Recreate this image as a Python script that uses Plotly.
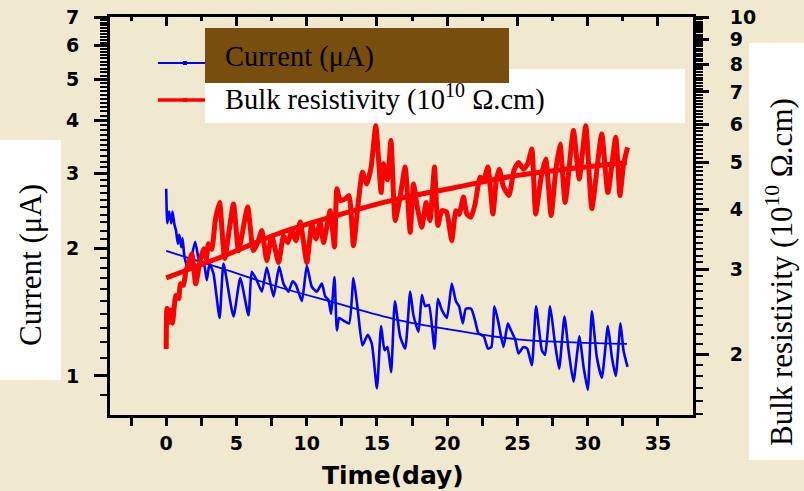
import plotly.graph_objects as go

# ---------------- data ----------------
blue_day = [0.0, 0.08, 0.21, 0.36, 0.45, 0.59, 0.69, 0.83, 0.93, 1.07, 1.16, 1.30, 1.59, 2.06, 2.42,
            2.66, 2.89, 3.08, 3.37, 3.80, 4.08, 4.79, 5.27, 5.86, 6.09, 6.45, 6.81, 7.16, 7.64, 8.04,
            8.35, 8.71, 8.99, 9.23, 9.66, 10.01, 10.37, 10.72, 11.08, 11.32, 11.55, 11.74, 11.98,
            12.15, 12.31, 12.62, 13.02, 13.33, 13.64, 13.97, 14.35, 14.64, 15.0, 15.30, 15.54, 15.75,
            16.01, 16.28, 16.65, 17.01, 17.37, 17.60, 17.96, 18.2, 18.43, 18.7, 19.1, 19.34, 19.62,
            19.98, 20.33, 20.62, 20.85, 21.11, 21.33, 21.71, 21.99, 22.23, 22.6, 22.9, 23.15, 23.37,
            23.66, 24.01, 24.32, 24.5, 24.84, 25.08, 25.43, 25.7, 26.03, 26.33, 26.74, 26.97, 27.33,
            27.64, 27.97, 28.35, 28.64, 28.99, 29.42, 29.71, 30.01, 30.30, 30.65, 31.01, 31.44, 31.72,
            32.0, 32.34, 32.55, 32.84]
current = [2.76, 2.29, 2.44, 2.29, 2.44, 2.27, 2.21, 2.05, 2.15, 2.01, 2.11, 1.91, 1.78, 2.07, 1.81,
           1.86, 1.68, 1.84, 1.74, 1.37, 1.84, 1.38, 1.70, 1.39, 1.76, 1.68, 1.58, 1.80, 1.54, 1.81,
           1.65, 1.58, 1.67, 1.64, 1.50, 1.82, 1.62, 1.58, 1.65, 1.54, 1.51, 1.40, 1.71,
           1.28, 1.37, 1.35, 1.33, 1.70, 1.43, 1.18, 1.25, 1.19, 0.935, 1.31, 1.15, 1.17,
           1.02, 1.50, 1.24, 1.16, 1.58, 1.39, 1.27, 1.55, 1.46, 1.47, 1.16, 1.52, 1.43,
           1.37, 1.65, 1.50, 1.46, 1.33, 1.44, 1.44, 1.35, 1.26, 1.24, 1.16, 1.17, 1.46,
           1.33, 1.17, 1.33, 1.29, 1.22, 1.13, 1.17, 1.16, 1.06, 1.46, 1.15, 1.12, 1.46,
           1.22, 1.04, 1.38, 1.15, 0.97, 1.24, 1.05, 0.927, 1.42, 1.11, 0.99, 1.31, 1.11,
           1.0, 1.33, 1.15, 1.05]

red_day = [0.0, 0.05, 0.2, 0.3, 0.45, 0.69, 0.9, 1.0, 1.23, 1.4, 1.59, 1.83, 2.1, 2.42, 2.66, 2.85,
           3.01, 3.25, 3.49, 3.8, 4.16, 4.79, 5.15, 5.8, 6.2, 6.5, 6.81, 7.16, 7.52, 8.0, 8.35, 8.66,
           8.94, 9.23, 9.54, 10.01, 10.37, 10.66, 10.96, 11.2, 11.67, 11.98, 12.15, 12.38, 12.74,
           13.02, 13.33, 13.69, 13.97, 14.28, 14.59, 14.92, 15.3, 15.47, 15.75, 16.0, 16.3, 16.65,
           17.01, 17.37, 17.6, 17.9, 18.2, 18.5, 18.78, 19.1, 19.34, 19.62, 19.95, 20.33, 20.62,
           20.85, 21.16, 21.4, 21.7, 21.99, 22.35, 22.6, 22.9, 23.26, 23.5, 23.71, 24.01, 24.4,
           24.75, 25.08, 25.43, 25.74, 26.03, 26.3, 26.69, 27.02, 27.4, 27.73, 28.04, 28.4, 28.99,
           29.4, 29.87, 30.3, 31.0, 31.44, 32.0, 32.3, 32.55, 32.84]
resistivity = [2.05, 2.49, 2.33, 2.47, 2.32, 2.65, 2.61, 2.80, 2.78, 2.98, 3.08, 3.23, 2.80, 3.13, 3.31, 3.15,
               3.39, 3.30, 3.78, 4.13, 3.16, 4.10, 3.28, 4.04, 3.28, 3.40, 3.61, 3.13, 3.52, 3.10, 3.52, 3.41,
               3.61, 3.44, 3.76, 3.10, 3.73, 3.47, 3.76, 3.41, 3.97, 3.34, 4.41, 4.17, 4.20,
               4.27, 3.36, 4.17, 4.77, 4.51, 4.89, 5.96, 4.33, 4.97, 4.60, 5.55, 3.79, 4.24,
               4.89, 3.58, 4.51, 4.00, 3.67, 4.13, 3.79, 4.89, 3.70, 3.97, 3.95, 3.44, 3.97,
               3.90, 4.24, 3.91, 3.85, 4.10, 4.66, 4.60, 4.89, 3.91, 4.60, 4.84, 4.45, 4.27,
               4.81, 5.00, 4.84, 4.97, 5.33, 3.91, 4.66, 5.08, 3.88, 4.81, 5.46, 4.13, 5.82,
               4.62, 5.96, 4.01, 5.73, 4.33, 5.64, 4.27, 4.94, 5.37]

blue_fit_day = [0, 4, 8, 12, 16.3, 20, 25, 29, 32.8]
current_fit = [1.97, 1.79, 1.62, 1.488, 1.36, 1.29, 1.22, 1.20, 1.19]
red_fit_day = [0, 4, 8, 12, 16.5, 20.5, 25, 29, 32.8]
resistivity_fit = [2.88, 3.19, 3.56, 3.87, 4.20, 4.43, 4.70, 4.86, 5.0]

x_major = [0, 5, 10, 15, 20, 25, 30, 35]
x_minor = [-2.5, 2.5, 7.5, 12.5, 17.5, 22.5, 27.5, 32.5]
left_major = [1, 2, 3, 4, 5, 6, 7]
right_major = [2, 3, 4, 5, 6, 7, 8, 9, 10]

legend_labels = ["Current (μA)", "Bulk resistivity (10<sup>10</sup> Ω.cm)"]
left_title = "Current (μA)"
right_title = "Bulk resistivity (10<sup>10</sup> Ω.cm)"
x_title = "Time(day)"

# ---------------- figure ----------------
W, H = 804, 491
L, R, T, B = 110, 111, 17, 76
BG = "#f1e9cf"


def pxx(x):
    return (x - L) / (W - L - R)


def pxy(y):
    return (H - B - y) / (H - T - B)


left_minor = [round(0.8 + 0.1 * i, 2) for i in range(0, 63)]
left_minor = [v for v in left_minor if abs(v - round(v)) > 1e-6]
right_minor = [round(1.5 + 0.1 * i, 2) for i in range(0, 86)]
right_minor = [v for v in right_minor if abs(v - round(v)) > 1e-6]

fig = go.Figure()
fig.add_trace(go.Scatter(x=blue_day, y=current, mode="lines",
                         line=dict(color="#0000ff", width=2.6, shape="spline", smoothing=0.5),
                         name=legend_labels[0], showlegend=False))
fig.add_trace(go.Scatter(x=blue_fit_day, y=current_fit, mode="lines",
                         line=dict(color="#0000ff", width=1.8, shape="spline"), showlegend=False))
fig.add_trace(go.Scatter(x=red_day, y=resistivity, mode="lines", yaxis="y2",
                         line=dict(color="#ff0000", width=5, shape="spline", smoothing=0.5),
                         name=legend_labels[1], showlegend=False))
fig.add_trace(go.Scatter(x=red_fit_day, y=resistivity_fit, mode="lines", yaxis="y2",
                         line=dict(color="#ff0000", width=5, shape="spline"), showlegend=False))
# dummy trace to bind the top mirror axis
fig.add_trace(go.Scatter(x=[None], y=[None], xaxis="x2", showlegend=False, hoverinfo="skip"))

tickfont = dict(family="DejaVu Sans", size=19, color="black", weight="bold")

fig.update_layout(
    width=W, height=H,
    margin=dict(l=L, r=R, t=T, b=B, pad=0, autoexpand=False),
    paper_bgcolor=BG, plot_bgcolor=BG,
    showlegend=False,
    xaxis=dict(range=[-4, 37.5], tickmode="array", tickvals=x_major, ticktext=[str(v) for v in x_major],
               ticks="outside", ticklen=8, tickwidth=2.5, tickcolor="black",
               minor=dict(tickmode="array", tickvals=x_minor, ticks="outside", ticklen=8,
                          tickwidth=2.5, tickcolor="black"),
               showline=True, linewidth=3, linecolor="black", showgrid=False, zeroline=False,
               tickfont=tickfont, ticklabelstandoff=1),
    xaxis2=dict(range=[-4, 37.5], overlaying="x", side="top", anchor="y",
                tickmode="array", tickvals=x_major, showticklabels=False,
                ticks="inside", ticklen=9, tickwidth=2.5, tickcolor="black",
                minor=dict(tickmode="array", tickvals=x_minor, ticks="inside", ticklen=4,
                           tickwidth=2.5, tickcolor="black"),
                showline=True, linewidth=3, linecolor="black", showgrid=False, zeroline=False),
    yaxis=dict(type="log", range=[-0.092, 0.8456], tickmode="array", tickvals=left_major,
               ticktext=[str(v) for v in left_major],
               ticks="outside", ticklen=13, tickwidth=2.5, tickcolor="black",
               minor=dict(tickmode="array", tickvals=left_minor, ticks="outside", ticklen=7,
                          tickwidth=2, tickcolor="black"),
               showline=True, linewidth=3, linecolor="black", showgrid=False, zeroline=False,
               tickfont=tickfont, ticklabelstandoff=11),
    yaxis2=dict(type="log", range=[0.175, 1.0006], overlaying="y", side="right", anchor="x",
                tickmode="array", tickvals=right_major, ticktext=[str(v) for v in right_major],
                ticks="outside", ticklen=13, tickwidth=2.5, tickcolor="black",
                minor=dict(tickmode="array", tickvals=right_minor, ticks="outside", ticklen=7,
                           tickwidth=2, tickcolor="black"),
                showline=True, linewidth=3, linecolor="black", showgrid=False, zeroline=False,
                tickfont=tickfont, ticklabelstandoff=17),
)

shapes = []
# white boxes behind the axis titles
shapes.append(dict(type="rect", xref="paper", yref="paper", x0=pxx(-2), x1=pxx(61), y0=pxy(380), y1=pxy(140),
                   fillcolor="white", line=dict(width=0)))
shapes.append(dict(type="rect", xref="paper", yref="paper", x0=pxx(749), x1=pxx(806), y0=pxy(460), y1=pxy(43),
                   fillcolor="white", line=dict(width=0)))
# legend boxes
shapes.append(dict(type="rect", xref="paper", yref="paper", x0=pxx(205), x1=pxx(685), y0=pxy(123), y1=pxy(69),
                   fillcolor="white", line=dict(width=0)))
shapes.append(dict(type="rect", xref="paper", yref="paper", x0=pxx(205), x1=pxx(509), y0=pxy(83), y1=pxy(28),
                   fillcolor="#784e0f", line=dict(width=0)))
# legend samples
shapes.append(dict(type="line", xref="paper", yref="paper", x0=pxx(158), x1=pxx(205), y0=pxy(63), y1=pxy(63),
                   line=dict(color="#0000ff", width=2)))
shapes.append(dict(type="rect", xref="paper", yref="paper", x0=pxx(183), x1=pxx(187), y0=pxy(65), y1=pxy(61),
                   fillcolor="#0000ff", line=dict(width=0)))
shapes.append(dict(type="line", xref="paper", yref="paper", x0=pxx(158), x1=pxx(205), y0=pxy(100), y1=pxy(100),
                   line=dict(color="#ff0000", width=3.5)))
shapes.append(dict(type="rect", xref="paper", yref="paper", x0=pxx(183), x1=pxx(187), y0=pxy(102), y1=pxy(98),
                   fillcolor="#ff0000", line=dict(width=0)))
fig.update_layout(shapes=shapes)

serif = dict(family="Liberation Serif", size=28.5, color="black")
title_font = dict(family="Liberation Serif", size=31, color="black")
annotations = [
    dict(xref="paper", yref="paper", x=pxx(223), y=pxy(57), text=legend_labels[0], showarrow=False,
         xanchor="left", yanchor="middle", font=serif),
    dict(xref="paper", yref="paper", x=pxx(223), y=pxy(97), text=legend_labels[1], showarrow=False,
         xanchor="left", yanchor="middle", font=serif),
    dict(xref="paper", yref="paper", x=pxx(30), y=pxy(265), text=left_title, showarrow=False,
         textangle=-90, xanchor="center", yanchor="middle", font=title_font),
    dict(xref="paper", yref="paper", x=pxx(779), y=pxy(272), text=right_title, showarrow=False,
         textangle=-90, xanchor="center", yanchor="middle", font=title_font),
    dict(xref="paper", yref="paper", x=pxx(393), y=pxy(475), text=x_title, showarrow=False,
         xanchor="center", yanchor="middle",
         font=dict(family="DejaVu Sans", size=25, color="black", weight="bold")),
]
fig.update_layout(annotations=annotations)

fig.write_html("out.html", config={"displayModeBar": False},
               post_script="document.body.style.margin='0';")
